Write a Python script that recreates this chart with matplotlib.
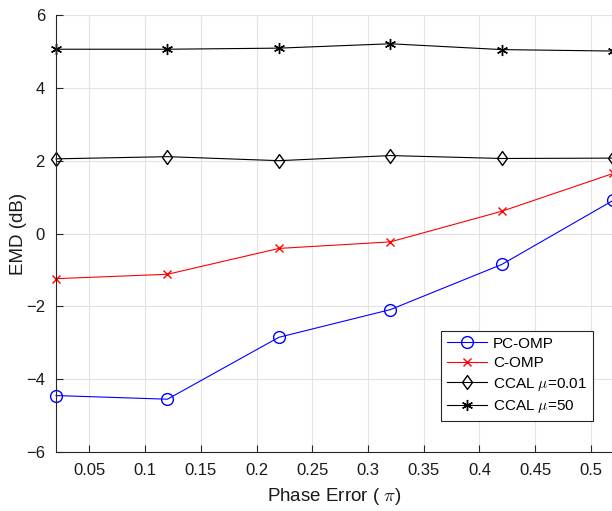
import numpy as np
import matplotlib.pyplot as plt
from matplotlib.path import Path

plt.rcParams['font.family'] = ['Liberation Sans', 'DejaVu Sans']
plt.rcParams['mathtext.fontset'] = 'cm'

# Erro de fase (em unidades de pi) e EMD de cada método
erro_fase = [0.02, 0.12, 0.22, 0.32, 0.42, 0.52]
emd_pc_omp = [-4.45, -4.55, -2.85, -2.09, -0.85, 0.91]
emd_c_omp = [-1.24, -1.12, -0.41, -0.23, 0.61, 1.65]
emd_ccal_001 = [2.05, 2.11, 2.00, 2.14, 2.06, 2.07]
emd_ccal_50 = [5.06, 5.06, 5.09, 5.21, 5.05, 5.01]

rotulos = ['PC-OMP', 'C-OMP', r'CCAL $\mu$=0.01', r'CCAL $\mu$=50']
xticks = [0.05, 0.1, 0.15, 0.2, 0.25, 0.3, 0.35, 0.4, 0.45, 0.5]
yticks = [-6, -4, -2, 0, 2, 4, 6]

# Losango um pouco mais alto que largo
losango = Path([(0, 1), (0.72, 0), (0, -1), (-0.72, 0), (0, 1)],
               [Path.MOVETO, Path.LINETO, Path.LINETO, Path.LINETO, Path.CLOSEPOLY])

fig = plt.figure(figsize=(6.12, 5.11), dpi=100)
ax = fig.add_axes([56 / 612, 1 - 452 / 511, 1.002 - 56 / 612, (452 - 15) / 511])

ax.plot(erro_fase, emd_pc_omp, color='blue', marker='o', markersize=8.5,
        markerfacecolor='none', lw=0.8, label=rotulos[0], clip_on=False)
ax.plot(erro_fase, emd_c_omp, color='red', marker='x', markersize=6,
        lw=0.8, label=rotulos[1], clip_on=False)
ax.plot(erro_fase, emd_ccal_001, color='black', marker=losango, markersize=10,
        markerfacecolor='none', lw=0.8, label=rotulos[2], clip_on=False)
ax.plot(erro_fase, emd_ccal_50, color='black', marker=(6, 2, 0), markersize=8,
        lw=0.8, label=rotulos[3], clip_on=False)

ax.set_xlim(0.02, 0.52)
ax.set_ylim(-6, 6)
ax.set_xticks(xticks)
ax.set_xticklabels([f'{t:g}' for t in xticks])
ax.set_yticks(yticks)
ax.grid(True, color='#e3e3e3', lw=0.8)
ax.set_axisbelow(True)

for lado in ['top', 'right']:
    ax.spines[lado].set_visible(False)
for lado in ['left', 'bottom']:
    ax.spines[lado].set_color('#262626')
    ax.spines[lado].set_linewidth(0.8)
ax.tick_params(direction='in', length=5, width=0.8, color='#262626',
               labelsize=12, labelcolor='#1a1a1a', pad=8)

ax.set_xlabel(r'Phase Error ( $\pi$)', fontsize=13.5, color='#1a1a1a', labelpad=6)
ax.set_ylabel('EMD (dB)', fontsize=13.5, color='#1a1a1a', labelpad=-1)

leg = ax.legend(loc='lower right', bbox_to_anchor=(0.964, 0.071), fontsize=11,
                fancybox=False, framealpha=1, edgecolor='#262626',
                borderaxespad=0, handlelength=2.6, labelspacing=0.35,
                borderpad=0.4, handletextpad=0.4)
leg.get_frame().set_linewidth(0.8)

plt.savefig('out.png', dpi=100)
